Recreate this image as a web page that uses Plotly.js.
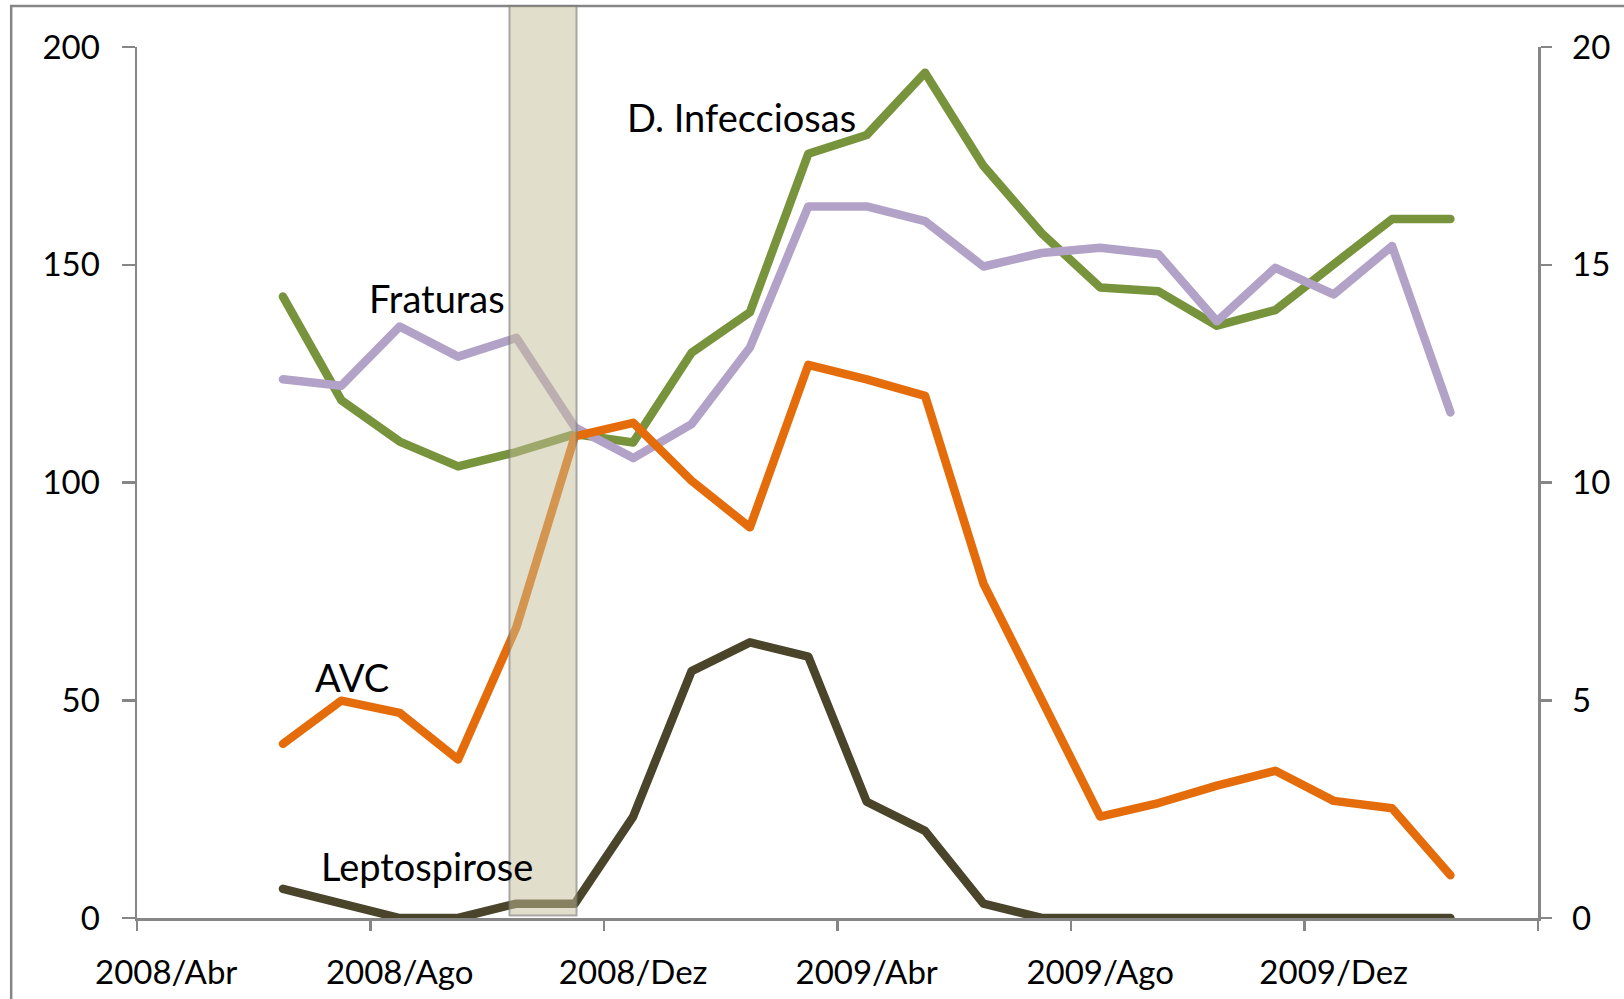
<!DOCTYPE html>
<html>
<head>
<meta charset="utf-8">
<script src="https://cdn.plot.ly/plotly-3.0.1.min.js"></script>
<style>
  body { margin: 0; background: #fff; }
  #chart { width: 1624px; height: 999px; }
  .scatterlayer .js-line { stroke-linecap: round !important; stroke-linejoin: round !important; }
</style>
</head>
<body>
<div id="chart"></div>
<script>
// months on the axis (2008/Abr .. 2010/Mar)
const months = ['2008/Abr', '2008/Mai', '2008/Jun', '2008/Jul', '2008/Ago', '2008/Set', '2008/Out', '2008/Nov',
  '2008/Dez', '2009/Jan', '2009/Fev', '2009/Mar', '2009/Abr', '2009/Mai', '2009/Jun', '2009/Jul', '2009/Ago',
  '2009/Set', '2009/Out', '2009/Nov', '2009/Dez', '2010/Jan', '2010/Fev', '2010/Mar'];
const labelMonths = ['2008/Abr', '2008/Ago', '2008/Dez', '2009/Abr', '2009/Ago', '2009/Dez'];

// months that have values
const dataMonths = months.slice(2, 23);

const infecciosas = [142.7, 118.9, 109.4, 103.7, 107.0, 111.1, 109.2, 129.8, 139.1, 175.5, 179.8,
  194.1, 172.7, 157.2, 144.8, 143.9, 136.0, 139.6, 150.1, 160.5, 160.5];
const fraturas = [123.7, 122.2, 135.8, 128.9, 133.2, 112.7, 105.6, 113.4, 131.0, 163.4, 163.4,
  160.0, 149.6, 152.7, 153.9, 152.4, 137.0, 149.3, 143.2, 154.3, 116.1];
const avc = [40.0, 49.9, 47.1, 36.4, 66.8, 110.6, 113.7, 100.4, 89.7, 127.0, 123.7,
  119.9, 76.8, 50.2, 23.3, 26.4, 30.4, 33.8, 26.9, 25.2, 9.8];
// right axis
const leptospirose = [0.67, 0.33, 0, 0, 0.33, 0.33, 2.33, 5.67, 6.33, 6.0, 2.67,
  2.0, 0.33, 0, 0, 0, 0, 0, 0, 0, 0];

const axisColor = '#868686';
const font = 'Lato, "Open Sans", sans-serif';

function line(name, y, color, yaxis) {
  return {
    x: dataMonths, y: y, name: name, yaxis: yaxis || 'y',
    type: 'scatter', mode: 'lines',
    line: { color: color, width: 8.5 },
    hoverinfo: 'x+y'
  };
}

const traces = [
  line('D. Infecciosas', infecciosas, '#77933c'),
  line('Fraturas', fraturas, '#b3a2c7'),
  line('AVC', avc, '#e46c0a'),
  line('Leptospirose', leptospirose, '#4a452a', 'y2'),
  // empty trace so the tick-mark axis gets drawn
  { x: [], y: [], xaxis: 'x2', yaxis: 'y', type: 'scatter', mode: 'lines', hoverinfo: 'skip' }
];

const boundaries = [];
for (let i = 0; i <= months.length; i += 4) boundaries.push(i - 0.5);

function label(text, x, y) {
  return { text: text, x: x, y: y, xref: 'x', yref: 'y', showarrow: false,
    xanchor: 'center', yanchor: 'middle', font: { family: font, size: 38, color: '#000' } };
}

const layout = {
  width: 1624, height: 999,
  paper_bgcolor: '#fff', plot_bgcolor: 'rgba(0,0,0,0)',
  showlegend: false,
  font: { family: font, size: 33, color: '#000' },
  margin: { l: 136.5, r: 86.3, t: 46.7, b: 81.3, pad: 0 },
  xaxis: {
    type: 'category', categoryorder: 'array', categoryarray: months,
    range: [-0.5, months.length - 0.5],
    tickmode: 'array', tickvals: labelMonths, ticktext: labelMonths,
    ticks: '', showgrid: false, zeroline: false, ticklabelstandoff: 24,
    showline: true, linecolor: axisColor, linewidth: 2.5,
    tickfont: { family: font, size: 33, color: '#000' }
  },
  xaxis2: {
    overlaying: 'x', anchor: 'y', side: 'bottom', type: 'linear',
    range: [-0.5, months.length - 0.5],
    tickmode: 'array', tickvals: boundaries,
    ticks: 'outside', ticklen: 12, tickwidth: 2.5, tickcolor: axisColor,
    showticklabels: false, showgrid: false, zeroline: false, showline: false
  },
  yaxis: {
    range: [0, 200], tickmode: 'linear', tick0: 0, dtick: 50,
    ticks: 'outside', ticklen: 13, tickwidth: 2.5, tickcolor: axisColor,
    showline: true, linecolor: axisColor, linewidth: 2.5, ticklabelstandoff: 15,
    showgrid: false, zeroline: false,
    tickfont: { family: font, size: 33, color: '#000' }
  },
  yaxis2: {
    overlaying: 'y', side: 'right', anchor: 'x',
    range: [0, 20], tickmode: 'linear', tick0: 0, dtick: 5,
    ticks: 'outside', ticklen: 11, tickwidth: 2.5, tickcolor: axisColor,
    showline: true, linecolor: axisColor, linewidth: 2.5, ticklabelstandoff: 14,
    showgrid: false, zeroline: false,
    tickfont: { family: font, size: 33, color: '#000' }
  },
  shapes: [
    // outer chart frame
    { type: 'rect', xref: 'paper', yref: 'paper', x0: -0.0898, x1: 1.2, y0: -0.3, y1: 1.047,
      line: { color: axisColor, width: 2.5 }, fillcolor: 'rgba(0,0,0,0)', layer: 'below' },
    // highlighted period
    { type: 'rect', xref: 'x', yref: 'paper', x0: 5.88, x1: 7.03, y0: 0.003, y1: 1.047,
      fillcolor: 'rgba(196,189,151,0.5)', line: { color: 'rgba(120,120,120,0.6)', width: 2 }, layer: 'above' }
  ],
  annotations: [
    label('D. Infecciosas', 9.855, 184.0),
    label('Fraturas', 4.647, 142.3),
    label('AVC', 3.191, 55.4),
    label('Leptospirose', 4.476, 11.9)
  ]
};

Plotly.newPlot('chart', traces, layout, { displayModeBar: false, staticPlot: true });
</script>
</body>
</html>
